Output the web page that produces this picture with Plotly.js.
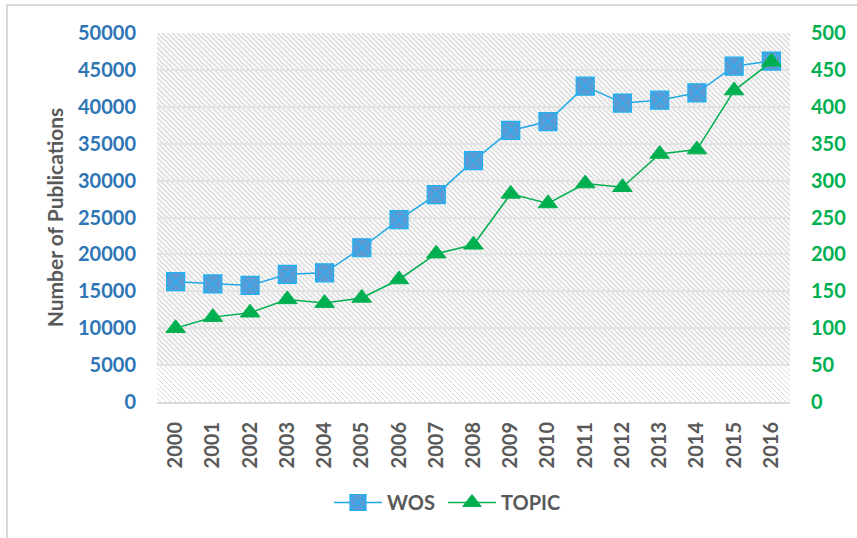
<!DOCTYPE html>
<html>
<head>
<meta charset="utf-8">
<script src="https://cdn.plot.ly/plotly-3.0.1.min.js"></script>
<style>
  html, body { margin: 0; padding: 0; background: #fff; }
  #wrap { position: relative; width: 857px; height: 538px; }
  #chart { position: absolute; left: 0; top: 0; width: 857px; height: 538px; }
  #frame { position: absolute; left: 6px; top: 4px; width: 860px; height: 560px;
           border-left: 2px solid #d9d9d9; border-top: 2px solid #d9d9d9; pointer-events: none; }
</style>
</head>
<body>
<div id="wrap">
  <div id="chart"></div>
  <div id="frame"></div>
</div>
<script>
// ---- data ----
const years = ['2000','2001','2002','2003','2004','2005','2006','2007','2008',
               '2009','2010','2011','2012','2013','2014','2015','2016'];
const wos = [16300, 16000, 15800, 17300, 17500, 20900, 24700, 28100, 32700,
             36800, 38000, 42800, 40500, 40900, 41900, 45500, 46200];
const topic = [100, 115, 121, 139, 134, 141, 166, 201, 213,
               282, 269, 296, 291, 336, 342, 422, 461];
const leftTicks = [0, 5000, 10000, 15000, 20000, 25000, 30000, 35000, 40000, 45000, 50000];
const rightTicks = [0, 50, 100, 150, 200, 250, 300, 350, 400, 450, 500];

// ---- layout constants ----
const W = 857, H = 538;
const M = { l: 157, r: 67, t: 33, b: 136 };
const PW = W - M.l - M.r, PH = H - M.t - M.b;
const bandH = Math.round(PH * 5000 / 50000);

let diagA = '', diagB = '';
for (let i = 0; i < 5; i++) {
  diagA += "<rect x='" + i + "' y='" + i + "' width='2' height='1' fill='#dedede'/>";
  diagB += "<rect x='" + i + "' y='" + i + "' width='1' height='1' fill='#dadada'/>";
}
diagA += "<rect x='0' y='4' width='1' height='1' fill='#dedede'/>";

const svg =
  "<svg xmlns='http://www.w3.org/2000/svg' width='" + PW + "' height='" + PH + "' viewBox='0 0 " + PW + " " + PH + "' shape-rendering='crispEdges'>" +
  "<defs>" +
  "<pattern id='a' patternUnits='userSpaceOnUse' width='5' height='5'>" +
  "<rect width='5' height='5' fill='#f8f8f8'/>" + diagA + "</pattern>" +
  "<pattern id='b' patternUnits='userSpaceOnUse' width='5' height='5'>" +
  "<rect width='5' height='5' fill='#ffffff'/>" + diagB + "</pattern>" +
  "</defs>" +
  "<rect x='0' y='0' width='" + PW + "' height='" + (PH - bandH) + "' fill='url(#a)'/>" +
  "<rect x='0' y='" + (PH - bandH) + "' width='" + PW + "' height='" + bandH + "' fill='url(#b)'/>" +
  "</svg>";
const bgSrc = 'data:image/svg+xml;charset=utf-8,' + encodeURIComponent(svg);

const FONT = 'Lato, "Open Sans", sans-serif';
const legFont = { family: FONT, size: 20, color: '#595959', weight: 700 };

const traces = [
  {
    x: years, y: wos, name: 'WOS', type: 'scatter', mode: 'lines+markers',
    yaxis: 'y', legend: 'legend',
    line: { color: '#1fa9e6', width: 1.5 },
    marker: { symbol: 'square-x', size: 18, color: '#5b9bd5',
              line: { color: '#20b0f0', width: 1.2 } },
    hoverinfo: 'x+y'
  },
  {
    x: years, y: topic, name: 'TOPIC', type: 'scatter', mode: 'lines+markers',
    yaxis: 'y2', legend: 'legend2',
    line: { color: '#00b050', width: 1.5 },
    marker: { symbol: 'triangle-up', size: 17, color: '#00b050',
              line: { color: '#00b050', width: 1 } },
    hoverinfo: 'x+y'
  }
];

const layout = {
  width: W, height: H,
  margin: M,
  paper_bgcolor: 'rgba(0,0,0,0)',
  plot_bgcolor: 'rgba(0,0,0,0)',
  font: { family: FONT, size: 20, color: '#595959', weight: 700 },
  showlegend: true,
  legend: {
    orientation: 'h', xref: 'container', yref: 'container',
    x: 329 / W, xanchor: 'left', y: 0.066, yanchor: 'middle',
    font: legFont, bgcolor: 'rgba(0,0,0,0)', itemwidth: 48
  },
  legend2: {
    orientation: 'h', xref: 'container', yref: 'container',
    x: 443 / W, xanchor: 'left', y: 0.066, yanchor: 'middle',
    font: legFont, bgcolor: 'rgba(0,0,0,0)', itemwidth: 48
  },
  xaxis: {
    type: 'category', range: [-0.5, years.length - 0.5],
    tickangle: -90, showgrid: false, zeroline: false,
    showline: true, linecolor: '#d9d9d9', linewidth: 2,
    ticks: '', ticklabelstandoff: 10,
    tickfont: { family: FONT, size: 20, color: '#595959', weight: 700 },
    fixedrange: true
  },
  yaxis: {
    range: [0, 50000], tickvals: leftTicks, ticktext: leftTicks.map(String),
    showgrid: true, gridcolor: '#e3e3e3', gridwidth: 2,
    zeroline: false, showline: false, ticks: '',
    ticklabelstandoff: 20,
    tickfont: { family: FONT, size: 20, color: '#2e75b6', weight: 700 },
    title: { text: 'Number of Publications', standoff: 8,
             font: { family: FONT, size: 21, color: '#595959', weight: 700 } },
    fixedrange: true
  },
  yaxis2: {
    range: [0, 500], tickvals: rightTicks, ticktext: rightTicks.map(String),
    overlaying: 'y', side: 'right', showgrid: false, zeroline: false,
    showline: false, ticks: '', ticklabelstandoff: 20,
    tickfont: { family: FONT, size: 20, color: '#00b050', weight: 700 },
    fixedrange: true
  },
  images: [{
    source: bgSrc, xref: 'paper', yref: 'paper', x: 0, y: 1,
    sizex: 1, sizey: 1, xanchor: 'left', yanchor: 'top',
    sizing: 'stretch', layer: 'below'
  }]
};

Plotly.newPlot('chart', traces, layout, { displayModeBar: false, staticPlot: true });
</script>
</body>
</html>
